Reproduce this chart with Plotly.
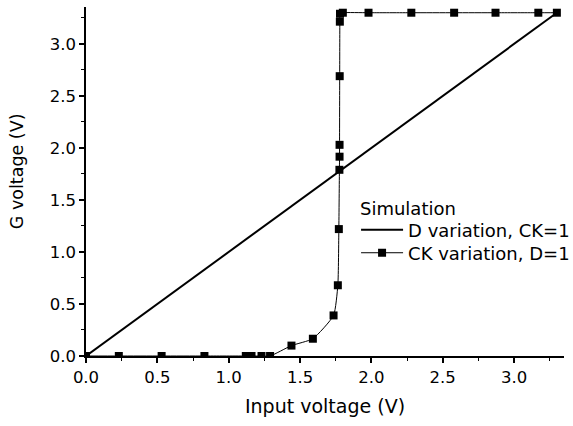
import plotly.graph_objects as go

# D variation, CK=1 (linear)
d_x = [0.0, 3.3]
d_y = [0.0, 3.3]

# CK variation, D=1
ck_x = [0.0, 0.23, 0.53, 0.83, 1.12, 1.16, 1.23, 1.29, 1.44, 1.59, 1.735, 1.765,
        1.772, 1.776, 1.777, 1.777, 1.778, 1.779, 1.78, 1.80, 1.98, 2.28, 2.58,
        2.87, 3.17, 3.30]
ck_y = [0.0, 0.0, 0.0, 0.0, 0.0, 0.0, 0.0, 0.0, 0.10, 0.166, 0.39, 0.68,
        1.22, 1.79, 1.916, 2.03, 2.69, 3.214, 3.29, 3.30, 3.30, 3.30, 3.30,
        3.30, 3.30, 3.30]

font_family = "DejaVu Sans, Liberation Sans, Arial, sans-serif"

fig = go.Figure()
fig.add_trace(go.Scatter(
    x=d_x, y=d_y, mode="lines", name="D variation, CK=1",
    line=dict(color="black", width=2), legend="legend", showlegend=True,
))
fig.add_trace(go.Scatter(
    x=ck_x, y=ck_y, mode="lines+markers", name="CK variation, D=1",
    line=dict(color="black", width=1, shape="spline", smoothing=0.5),
    marker=dict(symbol="square", size=8, color="black"), legend="legend2",
    showlegend=True,
))

axis_common = dict(
    showline=True, linecolor="black", linewidth=1.5,
    ticks="outside", ticklen=5, tickwidth=1.5, tickcolor="black",
    showgrid=False, zeroline=False, mirror=False, automargin=False,
    tickfont=dict(family=font_family, size=16.5, color="black"),
    tickformat=".1f",
    minor=dict(ticks="outside", ticklen=3, tickwidth=1, tickcolor="black", dtick=0.25),
)

legend_common = dict(
    xanchor="left", yanchor="middle", font=dict(size=18),
    bgcolor="rgba(0,0,0,0)", itemwidth=42, visible=True,
)

fig.update_layout(
    width=573, height=426,
    margin=dict(l=86, r=9, t=7, b=70, autoexpand=False),
    showlegend=True,
    plot_bgcolor="white", paper_bgcolor="white",
    font=dict(family=font_family, color="black"),
    xaxis=dict(range=[0, 3.35], dtick=0.5, tick0=0,
               title=dict(text="Input voltage (V)", font=dict(size=19), standoff=14),
               **axis_common),
    yaxis=dict(range=[0, 3.355], dtick=0.5, tick0=0, **axis_common),
    legend=dict(x=0.565, y=0.361, **legend_common),
    legend2=dict(x=0.565, y=0.295, **legend_common),
    annotations=[
        dict(text="Simulation", xref="paper", yref="paper", x=0.569, y=0.424,
             xanchor="left", yanchor="middle", showarrow=False,
             font=dict(size=18, family=font_family, color="black")),
        dict(text="G voltage (V)", xref="paper", yref="paper", x=-0.144, y=0.53,
             xanchor="center", yanchor="middle", textangle=-90, showarrow=False,
             font=dict(size=17.5, family=font_family, color="black")),
    ],
)

fig.write_html("out.html", config={"displayModeBar": False},
               post_script="document.body.style.margin='0';document.body.style.padding='0';")
